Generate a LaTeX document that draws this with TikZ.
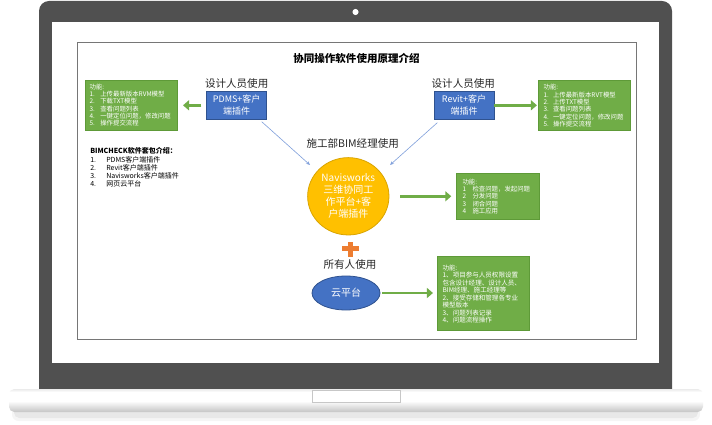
\documentclass[tikz,border=0pt]{standalone}
\usepackage{fontspec}
\setmainfont{Noto Sans CJK SC}
\usetikzlibrary{arrows.meta,calc,shapes.geometric}
\definecolor{lidc}{HTML}{505050}
\definecolor{gfill}{HTML}{70AD47}
\definecolor{gdraw}{HTML}{5E9A38}
\definecolor{bfill}{HTML}{4472C4}
\definecolor{bdraw}{HTML}{2F528F}
\definecolor{yfill}{HTML}{FFC000}
\definecolor{ydraw}{HTML}{D9A400}
\definecolor{ofill}{HTML}{ED7D31}
\definecolor{lblue}{HTML}{7F9FDB}
\definecolor{txt}{HTML}{262626}
\definecolor{framec}{HTML}{767676}
\newcommand{\gnum}[2]{\makebox[#1][l]{#2}}
\tikzset{
  gbox/.style={draw=gdraw, line width=0.6pt, fill=gfill, rectangle, inner sep=0pt},
  bbox/.style={draw=bdraw, line width=0.6pt, fill=bfill, rectangle, inner sep=0pt, text=white, align=center, font=\fontsize{6.75pt}{9pt}\selectfont},
  gtext/.style={anchor=north west, inner sep=0pt, align=left, text=white, font=\fontsize{4.8pt}{5.5pt}\selectfont},
  lbl/.style={inner sep=0pt, text=txt, font=\fontsize{7.9pt}{9pt}\selectfont},
  garrow/.style={draw=gfill, line width=2.2pt, -{Triangle[length=4.5pt, width=7.5pt]}},
  barrow/.style={draw=lblue, line width=0.45pt, -{Stealth[length=3pt, width=2.4pt]}},
}
\begin{document}
\begin{tikzpicture}[x=0.75pt,y=-0.75pt]
\useasboundingbox (0,0) rectangle (712,424);
\fill[white] (0,0) rectangle (712,424);
% laptop shadow
\fill[black, opacity=0.04, rounded corners=5pt] (12,404) rectangle (700,421);
\fill[black, opacity=0.05, rounded corners=4pt] (14,406) rectangle (698,418);
% lid
\fill[lidc, rounded corners=7.5pt] (39,1) rectangle (672,400);
\fill[white] (355.5,12) circle (2.3pt);
\fill[white] (52,22) rectangle (659,363);
% base
\begin{scope}
\clip[rounded corners=4pt] (9,389) rectangle (703,412);
\fill[white] (9,389) rectangle (703,412);
\shade[top color=white, bottom color=black!23] (9,401) rectangle (703,412);
\shade[top color=black!8, bottom color=white] (9,389) rectangle (703,392);
\end{scope}
\draw[black!22, line width=0.6pt, fill=white] (312,390) rectangle (400,402);
% frame
\draw[framec, line width=0.75pt] (77,43) rectangle (636,339);

% title
\node[inner sep=0pt, text=black, font=\fontsize{7.9pt}{9pt}\selectfont\bfseries] (title) at (356.5,58) {协同操作软件使用原理介绍};

% top-left
\node[lbl] (lab1) at (236.7,83.3) {设计人员使用};
\node[bbox, minimum width=45pt, minimum height=20.5pt] (pdms) at (236.7,105.3) {PDMS+客户\\端插件};
\node[gbox, minimum width=69pt, minimum height=37.5pt] (lg) at (131.3,105) {};
\node[gtext] (lgt) at ($(lg.north west)+(4.5,3.8)$) {功能:\\
\gnum{8pt}{1.}上传最新版本RVM模型\\
\gnum{8pt}{2.}下载TXT模型\\
\gnum{8pt}{3.}查看问题列表\\
\gnum{8pt}{4.}一键定位问题，修改问题\\
\gnum{8pt}{5.}操作提交流程};
\draw[garrow, shorten <=3.75pt, shorten >=4pt] (pdms.west) -- (lg.east |- pdms.west);

% top-right
\node[lbl] (lab2) at (463.3,83.3) {设计人员使用};
\node[bbox, minimum width=45pt, minimum height=20.5pt] (revit) at (464,105.3) {Revit+客户\\端插件};
\node[gbox, minimum width=69.3pt, minimum height=37.5pt] (rg) at (584.5,105.7) {};
\node[gtext] (rgt) at ($(rg.north west)+(5.5,3.8)$) {功能:\\
\gnum{7pt}{1.}上传最新版本RVT模型\\
\gnum{7pt}{2.}上传TXT模型\\
\gnum{7pt}{3.}查看问题列表\\
\gnum{7pt}{4.}一键定位问题，修改问题\\
\gnum{7pt}{5.}操作提交流程};
\draw[garrow, shorten >=0.75pt] (revit.east) -- (rg.west |- revit.east);

% BIMCHECK list
\node[anchor=north west, inner sep=0pt, align=left, text=black, font=\fontsize{5.25pt}{6.1pt}\selectfont] (kit) at (90,147.6) {\textbf{BIMCHECK软件套包介绍：}\\
\gnum{12pt}{1.}PDMS客户端插件\\
\gnum{12pt}{2.}Revit客户端插件\\
\gnum{12pt}{3.}Navisworks客户端插件\\
\gnum{12pt}{4.}网页云平台};

% center
\node[lbl] (lab3) at (352.7,144) {施工部BIM经理使用};
\node[ellipse, draw=ydraw, line width=0.6pt, fill=yfill, inner sep=0pt, minimum width=61pt, minimum height=58pt, text=white, align=center, font=\fontsize{7.5pt}{9pt}\selectfont] (navis) at (348.3,196.3) {Navisworks\\三维协同工\\作平台+客\\户端插件};
\coordinate (t1s) at (261.7,121.7);
\coordinate (t1e) at (310,165);
\coordinate (t2s) at (437.3,122.7);
\coordinate (t2e) at (390,165);
\draw[barrow] (t1s) -- (t1e);
\draw[barrow] (t2s) -- (t2e);
\node[gbox, minimum width=62pt, minimum height=34.5pt] (mg) at (498,196.3) {};
\node[gtext] (mgt) at ($(mg.north west)+(6,5.6)$) {功能:\\
\gnum{7.5pt}{1}检查问题，发起问题\\
\gnum{7.5pt}{2}分发问题\\
\gnum{7.5pt}{3}闭合问题\\
\gnum{7.5pt}{4}施工应用};
\draw[garrow, shorten <=8pt, shorten >=3.75pt] (navis.east) -- (mg.west |- navis.east);

% plus
\fill[ofill] (341.5,246) rectangle (358.5,251);
\fill[ofill] (347.5,241.5) rectangle (352.5,256.5);

% bottom
\node[lbl] (lab4) at (350,265) {所有人使用};
\node[ellipse, draw=bdraw, line width=0.6pt, fill=bfill, inner sep=0pt, minimum width=51pt, minimum height=25.5pt, text=white, font=\fontsize{7.5pt}{9pt}\selectfont] (cloud) at (346,293) {云平台};
\node[gbox, minimum width=68.8pt, minimum height=55pt] (bg) at (483.2,293.3) {};
\node[gtext, font=\fontsize{4.9pt}{5.6pt}\selectfont] (bgt) at ($(bg.north west)+(5.4,8.4)$) {功能:\\
1、项目参与人员权限设置\\
包含设计经理、设计人员、\\
BIM经理、施工经理等\\
2、接受存储和管理各专业\\
模型版本\\
3、问题列表记录\\
4、问题流程操作};
\draw[garrow, shorten <=1.3pt, shorten >=3pt] (cloud.east) -- (bg.west |- cloud.east);
\end{tikzpicture}
\end{document}
